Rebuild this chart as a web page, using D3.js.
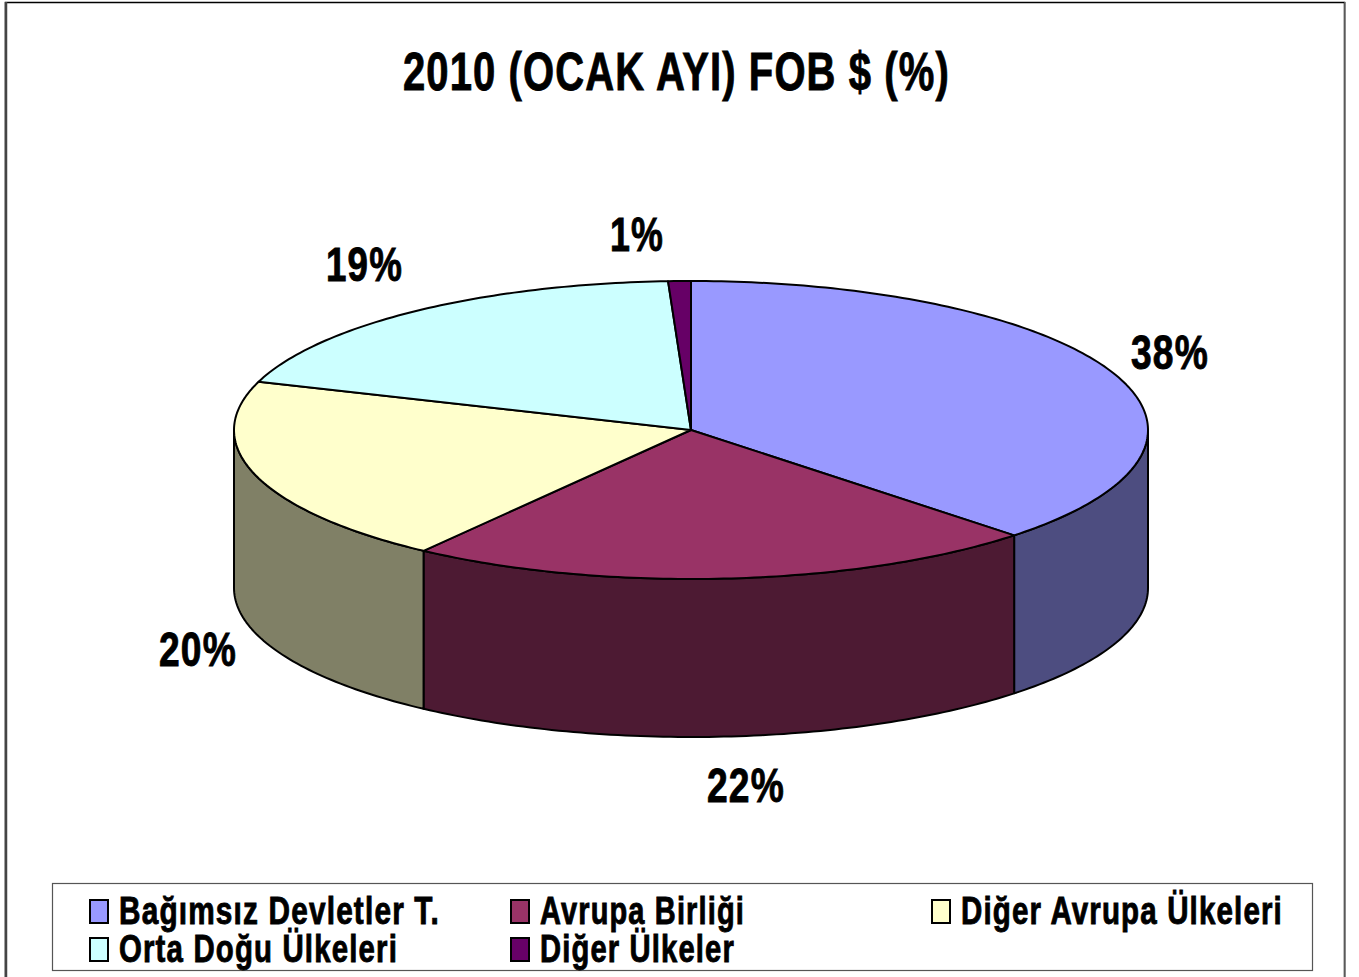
<!DOCTYPE html>
<html><head><meta charset="utf-8">
<script src="https://cdn.jsdelivr.net/npm/d3@7"></script>
<style>html,body{margin:0;padding:0;background:#fff;overflow:hidden}svg{display:block}
text{font-family:"Liberation Sans",Arial,sans-serif;font-weight:700;fill:#000;stroke:#000;stroke-width:.9px;letter-spacing:1.5px}</style>
</head><body><svg id="c" width="1359" height="977"></svg>
<script>
const titleText = "2010 (OCAK AYI) FOB $ (%)";
const categories = ["Bağımsız Devletler T.","Avrupa Birliği","Diğer Avrupa Ülkeleri","Orta Doğu Ülkeleri","Diğer Ülkeler"];
const shares = [37.5,22.45,20.3,18.95,0.8];
const topColors = ["#9999ff","#993366","#ffffcc","#ccffff","#660066"];
const sideColors = ["#4d4d80","#4d1a33","#808066","#668080","#330033"];

const svg = d3.select("#c");
const cx=691, cy=430, rx=457, ry=149, depth=158;
const sx = d3.scaleLinear().domain([-1,1]).range([cx-rx,cx+rx]);
const sy = d3.scaleLinear().domain([-1,1]).range([cy-ry,cy+ry]);
const pt = (a,dy=0)=>[sx(Math.sin(a)), sy(-Math.cos(a))+dy];
const pies = d3.pie().sort(null).value(d=>d)(shares);
const fmt = d=>d3.format(".0f")(d)+"%";
const samples=(a0,a1,dy=0)=>{const n=Math.max(2,Math.ceil((a1-a0)*60));return d3.range(n+1).map(i=>pt(a0+(a1-a0)*i/n,dy));};
const line=d3.line();
// squeeze a text horizontally to a target width, anchored at its left baseline point
const place=(node,x,y,w)=>{const k=w/node.getComputedTextLength();
  d3.select(node).attr("transform",`translate(${x},${y}) scale(${k},1)`);};

// frame
svg.append("rect").attr("x",5.5).attr("y",2.5).attr("width",1339).attr("height",985)
  .attr("fill","#fff").attr("stroke","#000").attr("stroke-width",1.5);
svg.append("line").attr("x1",6).attr("x2",6).attr("y1",2).attr("y2",977).attr("stroke","#444").attr("stroke-width",2.5);
svg.append("line").attr("x1",1345).attr("x2",1345).attr("y1",2).attr("y2",977).attr("stroke","#777").attr("stroke-width",1.5);

// title
svg.append("text").attr("font-size",54).text(titleText).each(function(){place(this,403,90,547);});

// side walls (only the front half, PI/2..3PI/2)
const walls=pies.map((p,i)=>({a0:Math.max(p.startAngle,Math.PI/2),a1:Math.min(p.endAngle,Math.PI*1.5),i})).filter(d=>d.a1>d.a0);
svg.append("g").selectAll("path").data(walls).join("path")
  .attr("d",d=>{const t=samples(d.a0,d.a1),b=samples(d.a0,d.a1,depth).reverse();return line(t.concat(b))+"Z";})
  .attr("fill",d=>sideColors[d.i]).attr("stroke","#000").attr("stroke-width",2).attr("stroke-linejoin","round");

// top slices
svg.append("g").selectAll("path").data(pies).join("path")
  .attr("d",p=>line([[sx(0),sy(0)],...samples(p.startAngle,p.endAngle)])+"Z")
  .attr("fill",(p,i)=>topColors[i]).attr("stroke","#000").attr("stroke-width",2).attr("stroke-linejoin","round");

// data labels
const labelPos=[[1131,369,78],[707,802,78],[159,666,78],[326,281,77],[610,251,54]];
svg.append("g").selectAll("text").data(shares).join("text")
  .attr("font-size",48).text(fmt)
  .each(function(d,i){place(this,...labelPos[i]);});

// legend
svg.append("rect").attr("x",52.5).attr("y",883.5).attr("width",1260).attr("height",87)
  .attr("fill","#fff").attr("stroke","#555").attr("stroke-width",1.2);
const lg=[[90,900,321],[511,900,205],[932,900,322],[90,938,279],[511,938,195]];
const g=svg.append("g").selectAll("g").data(categories).join("g");
g.append("rect").attr("x",(d,i)=>lg[i][0]).attr("y",(d,i)=>lg[i][1]).attr("width",18).attr("height",23)
  .attr("fill",(d,i)=>topColors[i]).attr("stroke","#000").attr("stroke-width",2);
g.append("text").attr("font-size",38).text(d=>d)
  .each(function(d,i){place(this,lg[i][0]+29,lg[i][1]+24,lg[i][2]);});
</script></body></html>
